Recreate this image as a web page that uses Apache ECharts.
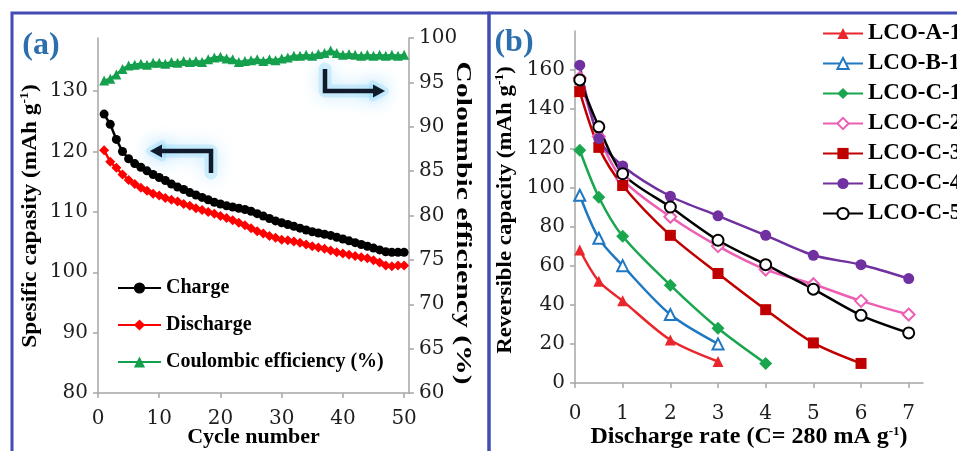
<!DOCTYPE html>
<html>
<head>
<meta charset="utf-8">
<style>
  html, body { margin: 0; padding: 0; background: #fff; }
  #main { width: 957px; height: 451px; }
</style>
</head>
<body>
<div id="main"></div>
<script src="https://cdn.jsdelivr.net/npm/echarts@6/dist/echarts.min.js"></script>
<script>
// (a) cycling data
var cycles = [1, 2, 3, 4, 5, 6, 7, 8, 9, 10, 11, 12, 13, 14, 15, 16, 17, 18, 19, 20,
  21, 22, 23, 24, 25, 26, 27, 28, 29, 30, 31, 32, 33, 34, 35, 36, 37, 38, 39, 40,
  41, 42, 43, 44, 45, 46, 47, 48, 49, 50];
var charge = [126.2, 124.5, 122.0, 120.0, 118.8, 118.0, 117.4, 116.8, 116.2, 115.7,
  115.2, 114.6, 114.1, 113.7, 113.2, 112.8, 112.4, 112.0, 111.6, 111.3,
  111.0, 110.8, 110.6, 110.4, 110.1, 109.7, 109.3, 108.9, 108.5, 108.2,
  107.9, 107.6, 107.3, 107.0, 106.7, 106.5, 106.3, 106.1, 105.8, 105.5,
  105.2, 104.9, 104.6, 104.3, 104.0, 103.7, 103.4, 103.3, 103.3, 103.3];
var discharge = [120.2, 118.3, 117.3, 116.2, 115.3, 114.6, 114.0, 113.5, 113.0, 112.7,
  112.3, 112.0, 111.7, 111.3, 111.0, 110.6, 110.3, 110.0, 109.7, 109.3,
  109.0, 108.6, 108.2, 107.8, 107.3, 106.8, 106.4, 106.0, 105.7, 105.4,
  105.3, 105.1, 104.9, 104.6, 104.3, 104.1, 103.9, 103.6, 103.3, 103.1,
  102.9, 102.7, 102.5, 102.3, 102.0, 101.6, 101.1, 101.0, 101.1, 101.1];
var coulombic = [95.2, 95.4, 95.9, 96.5, 96.9, 97.0, 97.1, 97.0, 97.2, 97.2,
  97.1, 97.3, 97.2, 97.4, 97.3, 97.4, 97.3, 97.6, 97.8, 97.9,
  97.7, 97.6, 97.3, 97.4, 97.5, 97.6, 97.4, 97.6, 97.5, 97.7,
  97.8, 98.0, 98.0, 98.1, 98.0, 98.2, 98.3, 98.6, 98.3, 98.1,
  98.2, 98.1, 98.0, 98.1, 98.0, 98.1, 98.0, 98.1, 98.0, 98.1];
var cycleTicks = [0, 10, 20, 30, 40, 50];
var capTicks = [80, 90, 100, 110, 120, 130];

// (b) rate data
var rates = [0.1, 0.5, 1, 2, 3, 4, 5, 6, 7];
var lcoA1 = [68, 52, 42, 22, 11];
var lcoB1 = [96, 74, 60, 35, 20];
var lcoC1 = [119, 95, 75, 50, 28, 10];
var lcoC2 = [156, 126, 104, 85, 70, 58, 50.5, 42, 35];
var lcoC3 = [149, 120.5, 101, 75.5, 56, 37.5, 20.5, 10];
var lcoC4 = [162.5, 125, 111, 95.5, 85.5, 75.5, 65.3, 60.5, 53.4];
var lcoC5 = [155, 131, 107, 90, 73, 60.5, 48, 34.6, 25.6];
var rateTicks = [0, 1, 2, 3, 4, 5, 6, 7];
var revTicks = [0, 20, 40, 60, 80, 100, 120, 140, 160];

var serif = 'Liberation Serif';
var tickFont = 'DejaVu Serif';
var axisGray = '#a6a6a6';
var glow = 'rgba(140,215,250,0.35)';
var glowShadow = 'rgba(90,195,248,0.85)';
var arrowInk = '#111a2a';

function pairs(xs, ys) {
  return ys.map(function (v, i) { return [xs[i], v]; });
}

var supStyle = { fontSize: 13, fontWeight: 'bold', fontFamily: serif, color: '#000', verticalAlign: 'top', lineHeight: 24 };

function valueAxis(extra) {
  var base = {
    type: 'value',
    axisLine: { show: true, lineStyle: { color: axisGray, width: 1.5 } },
    axisTick: { show: true, length: 5, lineStyle: { color: axisGray, width: 1.5 } },
    splitLine: { show: false },
    axisLabel: { fontFamily: tickFont, fontSize: 20, color: '#1e1e1e' }
  };
  for (var k in extra) {
    if (typeof extra[k] === 'object' && base[k] && !Array.isArray(extra[k])) {
      base[k] = Object.assign({}, base[k], extra[k]);
    } else {
      base[k] = extra[k];
    }
  }
  return base;
}

function arrow(points, head) {
  return [
    { type: 'polyline', shape: { points: points }, z: 9,
      style: { stroke: glow, lineWidth: 13, lineJoin: 'round', lineCap: 'round', fill: null, shadowBlur: 18, shadowColor: glowShadow } },
    { type: 'polygon', shape: { points: head }, z: 9,
      style: { fill: glow, stroke: glow, lineWidth: 8, lineJoin: 'round', shadowBlur: 18, shadowColor: glowShadow } },
    { type: 'polyline', shape: { points: points }, z: 10,
      style: { stroke: arrowInk, lineWidth: 4.5, lineJoin: 'miter', fill: null } },
    { type: 'polygon', shape: { points: head }, z: 10,
      style: { fill: arrowInk } }
  ];
}

var myChart = echarts.init(document.getElementById('main'), null, { renderer: 'canvas' });

var option = {
  animation: false,
  backgroundColor: '#fff',
  grid: [
    { left: 98, top: 38, width: 311, height: 355, outerBoundsMode: 'none', containLabel: false },
    { left: 575, top: 31, width: 348, height: 352, outerBoundsMode: 'none', containLabel: false }
  ],
  xAxis: [
    valueAxis({
      gridIndex: 0, min: 0, max: 50.8,
      axisTick: { customValues: cycleTicks },
      axisLabel: { customValues: cycleTicks, margin: 16 },
      name: 'Cycle number', nameLocation: 'middle', nameGap: 33, nameMoveOverlap: false,
      nameTextStyle: { fontFamily: serif, fontWeight: 'bold', fontSize: 22, color: '#000' }
    }),
    valueAxis({
      gridIndex: 1, min: 0, max: 7.3,
      axisTick: { customValues: rateTicks },
      axisLabel: { customValues: rateTicks, margin: 21 },
      name: 'Discharge rate (C= 280 mA g{sup|-1})', nameLocation: 'middle', nameGap: 42, nameMoveOverlap: false,
      nameTextStyle: { fontFamily: serif, fontWeight: 'bold', fontSize: 24, color: '#000',
        rich: { sup: supStyle } }
    })
  ],
  yAxis: [
    valueAxis({
      gridIndex: 0, min: 80, max: 138.8,
      axisTick: { customValues: capTicks },
      axisLabel: { customValues: capTicks, margin: 10 }
    }),
    valueAxis({
      gridIndex: 0, position: 'right', min: 60, max: 100, interval: 5,
      axisLabel: { margin: 10 }
    }),
    valueAxis({
      gridIndex: 1, min: 0, max: 180,
      axisTick: { customValues: revTicks },
      axisLabel: { customValues: revTicks, margin: 10 }
    })
  ],
  legend: [
    {
      orient: 'vertical', left: 117, top: 278, itemWidth: 43, itemHeight: 14, itemGap: 17, padding: 0,
      textStyle: { fontFamily: serif, fontWeight: 'bold', fontSize: 20, color: '#000' },
      data: ['Charge', 'Discharge', 'Coulombic efficiency (%)']
    },
    {
      orient: 'vertical', left: 822, top: 22, itemWidth: 40, itemHeight: 14, itemGap: 7, padding: 0,
      textStyle: { fontFamily: serif, fontWeight: 'bold', fontSize: 23, color: '#000' },
      data: ['LCO-A-1', 'LCO-B-1', 'LCO-C-1', 'LCO-C-2', 'LCO-C-3', 'LCO-C-4', 'LCO-C-5']
    }
  ],
  series: [
    {
      name: 'Charge', type: 'line', xAxisIndex: 0, yAxisIndex: 0,
      data: pairs(cycles, charge), symbol: 'circle', symbolSize: 9,
      itemStyle: { color: '#000' }, lineStyle: { color: '#000', width: 2.5 }
    },
    {
      name: 'Discharge', type: 'line', xAxisIndex: 0, yAxisIndex: 0,
      data: pairs(cycles, discharge), symbol: 'diamond', symbolSize: 10,
      itemStyle: { color: '#ff0000' }, lineStyle: { color: '#ff0000', width: 2.5 }
    },
    {
      name: 'Coulombic efficiency (%)', type: 'line', xAxisIndex: 0, yAxisIndex: 1,
      data: pairs(cycles, coulombic), symbol: 'triangle', symbolSize: 10,
      itemStyle: { color: '#14a04c' }, lineStyle: { color: '#14a04c', width: 2.5 }
    },
    {
      name: 'LCO-A-1', type: 'line', xAxisIndex: 1, yAxisIndex: 2, smooth: 0.3,
      data: pairs(rates, lcoA1), symbol: 'triangle', symbolSize: 11,
      itemStyle: { color: '#e8262b' }, lineStyle: { color: '#e8262b', width: 2.5 }
    },
    {
      name: 'LCO-B-1', type: 'line', xAxisIndex: 1, yAxisIndex: 2, smooth: 0.3,
      data: pairs(rates, lcoB1), symbol: 'emptyTriangle', symbolSize: 11,
      itemStyle: { color: '#1f78c1', borderWidth: 1.5 }, lineStyle: { color: '#1f78c1', width: 2.5 }
    },
    {
      name: 'LCO-C-1', type: 'line', xAxisIndex: 1, yAxisIndex: 2, smooth: 0.3,
      data: pairs(rates, lcoC1), symbol: 'diamond', symbolSize: 13,
      itemStyle: { color: '#19a64f' }, lineStyle: { color: '#19a64f', width: 2.5 }
    },
    {
      name: 'LCO-C-2', type: 'line', xAxisIndex: 1, yAxisIndex: 2, smooth: 0.3,
      data: pairs(rates, lcoC2), symbol: 'emptyDiamond', symbolSize: 12,
      itemStyle: { color: '#ec5fb4', borderWidth: 1.5 }, lineStyle: { color: '#ec5fb4', width: 2.5 }
    },
    {
      name: 'LCO-C-3', type: 'line', xAxisIndex: 1, yAxisIndex: 2, smooth: 0.3,
      data: pairs(rates, lcoC3), symbol: 'rect', symbolSize: 11,
      itemStyle: { color: '#c00000' }, lineStyle: { color: '#c00000', width: 2.5 }
    },
    {
      name: 'LCO-C-4', type: 'line', xAxisIndex: 1, yAxisIndex: 2, smooth: 0.3,
      data: pairs(rates, lcoC4), symbol: 'circle', symbolSize: 11,
      itemStyle: { color: '#7030a0' }, lineStyle: { color: '#7030a0', width: 2.5 }
    },
    {
      name: 'LCO-C-5', type: 'line', xAxisIndex: 1, yAxisIndex: 2, smooth: 0.3,
      data: pairs(rates, lcoC5), symbol: 'emptyCircle', symbolSize: 11,
      itemStyle: { color: '#000', borderWidth: 1.5 }, lineStyle: { color: '#000', width: 2.5 }
    }
  ],
  graphic: [
    // panel frames
    { type: 'rect', shape: { x: 12, y: 13, width: 477, height: 450 }, style: { fill: 'none', stroke: '#434cb4', lineWidth: 3 }, z: 0 },
    { type: 'rect', shape: { x: 489, y: 13, width: 480, height: 450 }, style: { fill: 'none', stroke: '#434cb4', lineWidth: 3 }, z: 0 },
    // panel labels
    { type: 'text', x: 41, y: 46, style: { text: '(a)', align: 'center', verticalAlign: 'middle', textAlign: 'center', textVerticalAlign: 'middle', font: 'bold 32px "Liberation Serif"', fill: '#2c6fae' } },
    { type: 'text', x: 514, y: 43, style: { text: '(b)', align: 'center', verticalAlign: 'middle', textAlign: 'center', textVerticalAlign: 'middle', font: 'bold 32px "Liberation Serif"', fill: '#2c6fae' } },
    // y axis titles
    { type: 'text', x: 30, y: 216, rotation: Math.PI / 2, scaleX: 1.06,
      style: { text: 'Spesific capasity (mAh g{sup|-1})', align: 'center', verticalAlign: 'middle', textAlign: 'center', textVerticalAlign: 'middle',
        font: 'bold 22px "Liberation Serif"', fill: '#000', rich: { sup: supStyle } } },
    { type: 'text', x: 463, y: 223, rotation: -Math.PI / 2, scaleX: 1.35,
      style: { text: 'Coloumbic efficiency (%)', align: 'center', verticalAlign: 'middle', textAlign: 'center', textVerticalAlign: 'middle',
        font: 'bold 22px "Liberation Serif"', fill: '#000' } },
    { type: 'text', x: 505, y: 210, rotation: Math.PI / 2, scaleX: 1.04,
      style: { text: 'Reversible capacity (mAh g{sup|-1})', align: 'center', verticalAlign: 'middle', textAlign: 'center', textVerticalAlign: 'middle',
        font: 'bold 22px "Liberation Serif"', fill: '#000', rich: { sup: supStyle } } }
  ]
    .concat(arrow([[211, 173], [211, 151], [161, 151]], [[150, 151], [162, 144.5], [162, 157.5]]))
    .concat(arrow([[325, 69], [325, 91], [374, 91]], [[385, 91], [373, 84.5], [373, 97.5]]))
};

myChart.setOption(option);
</script>
</body>
</html>
